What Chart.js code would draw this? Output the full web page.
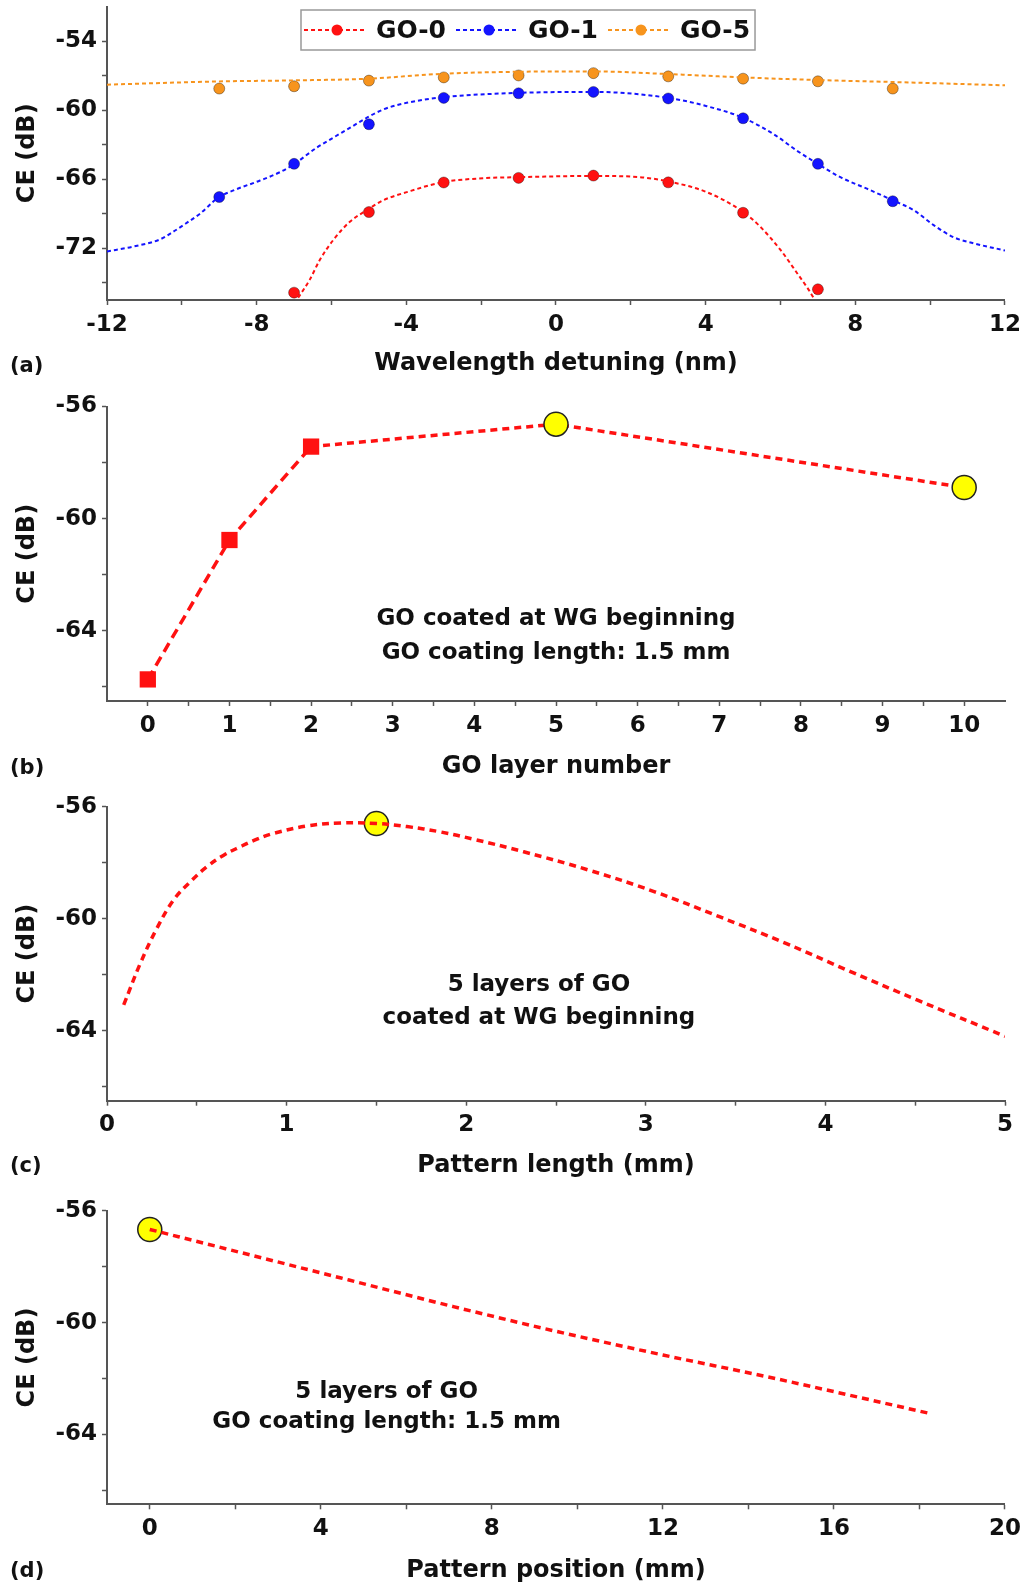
<!DOCTYPE html>
<html>
<head>
<meta charset="utf-8">
<title>CE of GO-coated waveguides</title>
<script src="https://cdn.jsdelivr.net/npm/chart.js@4.4.1/dist/chart.umd.min.js"></script>
<style>
    body { margin: 0; background: #fff; }
    .panel { position: relative; width: 1027px; }
</style>
</head>
<body>
<div class="panel" style="height:380px"><canvas id="chartA"></canvas></div>
<div class="panel" style="height:400px"><canvas id="chartB"></canvas></div>
<div class="panel" style="height:400px"><canvas id="chartC"></canvas></div>
<div class="panel" style="height:406px"><canvas id="chartD"></canvas></div>
<script>
// (a) measured CE vs wavelength detuning
const seriesNames = ['GO-0', 'GO-1', 'GO-5'];
const detuning = [-9, -7, -5, -3, -1, 1, 3, 5, 7, 9];
const go0Detuning = [-7, -5, -3, -1, 1, 3, 5, 7];
const go0CE = [-75.86, -68.86, -66.29, -65.89, -65.69, -66.28, -68.92, -75.57];
const go1CE = [-67.55, -64.67, -61.23, -58.94, -58.54, -58.42, -58.99, -60.71, -64.67, -67.92];
const go5CE = [-58.13, -57.93, -57.44, -57.16, -56.99, -56.79, -57.07, -57.27, -57.5, -58.13];

// (a) fitted curves
const go0FitX = [-6.89, -6.58, -6.31, -5.95, -5.51, -5.06, -4.62, -3.99, -3.02, -1.95, -1.0, 1.0, 2.25, 3.0, 4.03, 5.0, 5.46, 6.0, 6.44, 6.75, 6.88];
const go0FitY = [-76.3, -74.73, -73.0, -71.28, -69.7, -68.7, -67.84, -67.13, -66.26, -65.92, -65.83, -65.72, -65.83, -66.2, -67.13, -68.85, -70.14, -72.15, -74.15, -75.6, -76.3];
const go1FitX = [-12, -11.3, -10.58, -10.23, -9.87, -9.51, -9.03, -8.62, -7.91, -7.38, -7.02, -6.39, -5.95, -5.5, -5.06, -4.61, -3.99, -3.01, -1.05, 1.0, 3.0, 4.03, 5.0, 5.82, 6.44, 7.0, 7.6, 8.31, 9.0, 9.56, 10.09, 10.63, 11.16, 12];
const go1FitY = [-72.28, -71.86, -71.23, -70.57, -69.8, -68.99, -67.61, -66.98, -66.12, -65.4, -64.74, -63.25, -62.39, -61.53, -60.67, -59.94, -59.37, -58.88, -58.51, -58.42, -58.94, -59.66, -60.67, -62.1, -63.53, -64.68, -65.83, -66.83, -67.84, -68.7, -69.99, -71.05, -71.57, -72.2];
const go5FitX = [-12, -9, -7, -5, -3, -1, 1, 3, 5, 7, 9, 12];
const go5FitY = [-57.79, -57.51, -57.42, -57.27, -56.84, -56.67, -56.64, -56.87, -57.16, -57.39, -57.56, -57.85];

// (b) CE vs GO layer number
const layerNum = [0, 1, 2, 5, 10];
const layerCE = [-65.73, -60.76, -57.43, -56.63, -58.89];

// (c) CE vs pattern length
const patternLen = [0.093, 0.186, 0.278, 0.371, 0.464, 0.557, 0.65, 0.742, 0.835, 0.928, 1.114, 1.3, 1.5, 1.67, 1.856, 2.04, 2.32, 2.68, 3.05, 3.41, 3.78, 4.14, 4.51, 5.0];
const patternLenCE = [-63.08, -61.59, -60.34, -59.33, -58.68, -58.14, -57.73, -57.43, -57.16, -56.95, -56.69, -56.58, -56.6, -56.71, -56.9, -57.16, -57.61, -58.26, -59.04, -59.93, -60.88, -61.89, -62.9, -64.2];
const bestLen = [1.5];
const bestLenCE = [-56.6];

// (d) CE vs pattern position
const patternPos = [0, 4.66, 7.1, 9.55, 12, 14.44, 18.24];
const patternPosCE = [-56.67, -58.48, -59.43, -60.33, -61.16, -61.94, -63.25];
const bestPos = [0];
const bestPosCE = [-56.67];

// tick labels
const aXLabels = [-12, -8, -4, 0, 4, 8, 12];
const aXMinor = [-10, -6, -2, 2, 6, 10];
const aYLabels = [-72, -66, -60, -54];
const aYMinor = [-75, -69, -63, -57];
const bXLabels = [0, 1, 2, 3, 4, 5, 6, 7, 8, 9, 10];
const bXMinor = [0.5, 1.5, 2.5, 3.5, 4.5, 5.5, 6.5, 7.5, 8.5, 9.5];
const cXLabels = [0, 1, 2, 3, 4, 5];
const cXMinor = [0.5, 1.5, 2.5, 3.5, 4.5];
const dXLabels = [0, 4, 8, 12, 16, 20];
const dXMinor = [2, 6, 10, 14, 18];
const ceYLabels = [-64, -60, -56];
const ceYMinor = [-66, -62, -58];

const red = '#ff1111';
const blue = '#1414ff';
const orange = '#f7941d';
const yellow = '#ffff00';
const seriesColors = [red, blue, orange];

Chart.defaults.font.family = "'DejaVu Sans', sans-serif";
Chart.defaults.font.weight = 'bold';
Chart.defaults.color = '#111';

function pts(xs, ys) {
    return xs.map((x, i) => ({ x: x, y: ys[i] }));
}

function tickList(labels, minor) {
    return labels.concat(minor).sort((a, b) => a - b).map(v => ({ value: v }));
}

function drawLegend(ctx) {
    ctx.font = "bold 25px 'DejaVu Sans'";
    ctx.textAlign = 'left';
    ctx.textBaseline = 'middle';
    let x = 304;
    const y = 30;
    const parts = [];
    seriesNames.forEach((name, i) => {
        parts.push({ x: x, name: name, color: seriesColors[i] });
        x += 62 + 10 + ctx.measureText(name).width + 10;
    });
    ctx.fillStyle = '#fff';
    ctx.fillRect(301, 10, x - 10 + 5 - 301, 40);
    ctx.strokeStyle = '#999';
    ctx.lineWidth = 1.5;
    ctx.strokeRect(301, 10, x - 10 + 5 - 301, 40);
    parts.forEach(p => {
        ctx.strokeStyle = p.color;
        ctx.lineWidth = 2;
        ctx.setLineDash([4, 3]);
        ctx.beginPath();
        ctx.moveTo(p.x, y);
        ctx.lineTo(p.x + 62, y);
        ctx.stroke();
        ctx.setLineDash([]);
        ctx.fillStyle = p.color;
        ctx.beginPath();
        ctx.arc(p.x + 33, y, 5.5, 0, Math.PI * 2);
        ctx.fill();
        ctx.fillStyle = '#111';
        ctx.fillText(p.name, p.x + 72, y + 1);
    });
}

const panelDecor = {
    id: 'panelDecor',
    afterDraw(chart, args, opts) {
        const ctx = chart.ctx;
        const xs = chart.scales.x;
        const ys = chart.scales.y;
        ctx.save();
        ctx.fillStyle = '#111';
        ctx.textBaseline = 'middle';
        ctx.textAlign = 'left';
        ctx.font = "bold 21px 'DejaVu Sans'";
        ctx.fillText(opts.tag, 10, opts.tagY);
        ctx.font = "bold 23px 'DejaVu Sans'";
        ctx.textAlign = 'center';
        (opts.notes || []).forEach(n => {
            ctx.fillText(n.text, xs.getPixelForValue(n.x), ys.getPixelForValue(n.y));
        });
        if (opts.legend) drawLegend(ctx);
        ctx.restore();
    }
};

function panelOptions(cfg) {
    const tickFont = { size: 23, weight: 'bold' };
    const titleFont = { size: 24, weight: 'bold', lineHeight: 1.0 };
    const grid = { drawOnChartArea: false, drawTicks: true, tickLength: 5, tickWidth: 1.5, color: '#555' };
    const border = { color: '#555', width: 2 };
    return {
        responsive: true,
        maintainAspectRatio: false,
        animation: false,
        events: [],
        layout: { padding: { top: cfg.top, right: 22, left: 0, bottom: 0 } },
        plugins: {
            legend: { display: false },
            tooltip: { enabled: false },
            panelDecor: cfg.decor
        },
        scales: {
            x: {
                type: 'linear',
                min: cfg.xMin,
                max: cfg.xMax,
                afterBuildTicks: s => { s.ticks = tickList(cfg.xLabels, cfg.xMinor); },
                afterFit: s => { s.height = cfg.xHeight; },
                ticks: {
                    autoSkip: false, maxRotation: 0, padding: 6, font: tickFont, color: '#111',
                    callback: v => cfg.xLabels.includes(v) ? String(v) : ''
                },
                grid: grid,
                border: border,
                title: { display: true, text: cfg.xTitle, font: titleFont, color: '#111', padding: { top: 0, bottom: cfg.titlePad } }
            },
            y: {
                min: cfg.yMin,
                max: cfg.yMax,
                afterBuildTicks: s => { s.ticks = tickList(cfg.yLabels, cfg.yMinor); },
                afterFit: s => {
                    s.width = 107;
                    s.paddingTop = 0;
                    s.paddingBottom = 0;
                },
                ticks: {
                    autoSkip: false, padding: 5, font: tickFont, color: '#111',
                    callback: v => cfg.yLabels.includes(v) ? String(v) : ''
                },
                grid: grid,
                border: border,
                title: { display: true, text: 'CE (dB)', font: titleFont, color: '#111', padding: { top: 16, bottom: 0 } }
            }
        }
    };
}

function fitSet(xs, ys, color) {
    return {
        data: pts(xs, ys), showLine: true, fill: false,
        borderColor: color, borderWidth: 2, borderDash: [4, 3],
        pointRadius: 0, cubicInterpolationMode: 'monotone'
    };
}

function markSet(xs, ys, color) {
    return {
        data: pts(xs, ys), showLine: false, clip: false,
        pointRadius: 5.5, pointBackgroundColor: color,
        pointBorderColor: 'rgba(0,0,0,0.35)', pointBorderWidth: 1
    };
}

function bestSet(xs, ys) {
    return {
        data: pts(xs, ys), showLine: false, clip: false,
        pointRadius: 12, pointBackgroundColor: yellow,
        pointBorderColor: '#222', pointBorderWidth: 1.5
    };
}

new Chart(document.getElementById('chartA'), {
    type: 'scatter',
    data: {
        datasets: [
            fitSet(go0FitX, go0FitY, red),
            fitSet(go1FitX, go1FitY, blue),
            fitSet(go5FitX, go5FitY, orange),
            markSet(go0Detuning, go0CE, red),
            markSet(detuning, go1CE, blue),
            markSet(detuning, go5CE, orange)
        ]
    },
    options: panelOptions({
        top: 4, xHeight: 80, titlePad: 4.4,
        xMin: -12, xMax: 12, xLabels: aXLabels, xMinor: aXMinor,
        yMin: -76.5, yMax: -51, yLabels: aYLabels, yMinor: aYMinor,
        xTitle: 'Wavelength detuning (nm)',
        decor: { tag: '(a)', tagY: 367, legend: true }
    }),
    plugins: [panelDecor]
});

new Chart(document.getElementById('chartB'), {
    type: 'scatter',
    data: {
        datasets: [{
            data: pts(layerNum, layerCE),
            showLine: true, fill: false, clip: false,
            borderColor: red, borderWidth: 3.5,
            segment: { borderDash: ctx => ctx.p0DataIndex < 2 ? [10, 6] : [7, 5] },
            pointStyle: ctx => ctx.dataIndex < 3 ? 'rect' : 'circle',
            pointRadius: ctx => ctx.dataIndex < 3 ? 11.5 : 12,
            pointBackgroundColor: ctx => ctx.dataIndex < 3 ? red : yellow,
            pointBorderColor: ctx => ctx.dataIndex < 3 ? red : '#222',
            pointBorderWidth: ctx => ctx.dataIndex < 3 ? 0 : 1.5
        }]
    },
    options: panelOptions({
        top: 26.5, xHeight: 79, titlePad: 1,
        xMin: -0.5, xMax: 10.5, xLabels: bXLabels, xMinor: bXMinor,
        yMin: -66.5, yMax: -56, yLabels: ceYLabels, yMinor: ceYMinor,
        xTitle: 'GO layer number',
        decor: {
            tag: '(b)', tagY: 389,
            notes: [
                { x: 5, y: -63.59, text: 'GO coated at WG beginning' },
                { x: 5, y: -64.79, text: 'GO coating length: 1.5 mm' }
            ]
        }
    }),
    plugins: [panelDecor]
});

new Chart(document.getElementById('chartC'), {
    type: 'scatter',
    data: {
        datasets: [
            {
                data: pts(patternLen, patternLenCE), showLine: true, fill: false,
                borderColor: red, borderWidth: 3.5, borderDash: [7, 5],
                pointRadius: 0, tension: 0.4
            },
            bestSet(bestLen, bestLenCE)
        ]
    },
    options: panelOptions({
        top: 26.7, xHeight: 79.3, titlePad: 2.4,
        xMin: 0, xMax: 5, xLabels: cXLabels, xMinor: cXMinor,
        yMin: -66.5, yMax: -56, yLabels: ceYLabels, yMinor: ceYMinor,
        xTitle: 'Pattern length (mm)',
        decor: {
            tag: '(c)', tagY: 387,
            notes: [
                { x: 2.405, y: -62.37, text: '5 layers of GO' },
                { x: 2.405, y: -63.56, text: 'coated at WG beginning' }
            ]
        }
    }),
    plugins: [panelDecor]
});

new Chart(document.getElementById('chartD'), {
    type: 'scatter',
    data: {
        datasets: [
            {
                data: pts(patternPos, patternPosCE), showLine: true, fill: false,
                borderColor: red, borderWidth: 3.5, borderDash: [7, 5],
                pointRadius: 0, cubicInterpolationMode: 'monotone'
            },
            bestSet(bestPos, bestPosCE)
        ]
    },
    options: panelOptions({
        top: 30.7, xHeight: 81.7, titlePad: 3.7,
        xMin: -1, xMax: 20, xLabels: dXLabels, xMinor: dXMinor,
        yMin: -66.5, yMax: -56, yLabels: ceYLabels, yMinor: ceYMinor,
        xTitle: 'Pattern position (mm)',
        decor: {
            tag: '(d)', tagY: 392,
            notes: [
                { x: 5.54, y: -62.5, text: '5 layers of GO' },
                { x: 5.54, y: -63.55, text: 'GO coating length: 1.5 mm' }
            ]
        }
    }),
    plugins: [panelDecor]
});
</script>
</body>
</html>
